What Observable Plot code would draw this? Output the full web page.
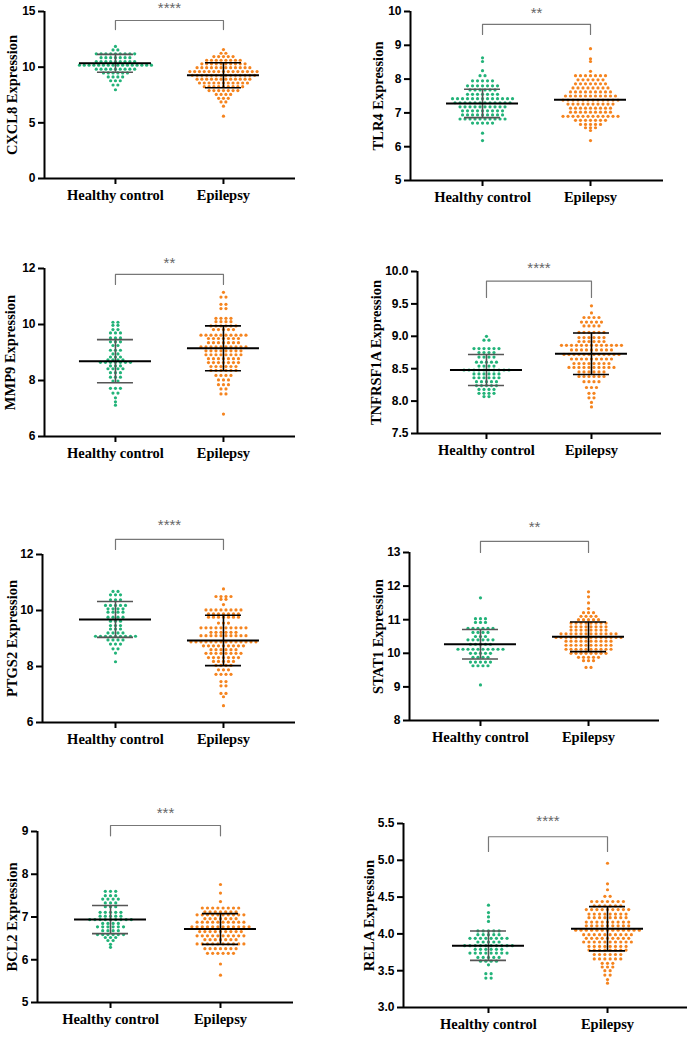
<!DOCTYPE html>
<html><head><meta charset="utf-8">
<script src="https://cdn.jsdelivr.net/npm/d3@7"></script>
<script src="https://cdn.jsdelivr.net/npm/@observablehq/plot@0.6"></script>
<style>
body{margin:0;background:#fff}
#wrap{position:relative;width:692px;height:1039px;background:#fff;overflow:hidden}
.panel{position:absolute}
.panel svg{overflow:visible}
</style></head><body><div id="wrap"></div>
<script>
// ---------- DATA (rows = [value, number of points]) ----------
const groups = ["Healthy control", "Epilepsy"];
const genes = ["CXCL8", "TLR4", "MMP9", "TNFRSF1A", "PTGS2", "STAT1", "BCL2", "RELA"];
const significance = ["****", "**", "**", "****", "****", "**", "***", "****"];

const cxcl8Healthy = [[11.86,1],[11.55,2],[11.2,9],[10.85,7],[10.5,9],[10.18,16],[9.82,9],[9.48,6],[9.12,4],[8.78,3],[8.4,2],[7.97,1]];
const cxcl8Epilepsy = [[11.58,1],[11.25,2],[10.95,5],[10.62,8],[10.3,10],[9.95,12],[9.6,15],[9.27,14],[8.92,12],[8.58,11],[8.25,9],[7.9,7],[7.55,4],[7.2,3],[6.88,2],[6.5,1],[5.6,1]];
const tlr4Healthy = [[8.63,1],[8.52,1],[8.25,1],[8.1,2],[7.95,5],[7.8,7],[7.68,6],[7.55,7],[7.42,13],[7.3,12],[7.18,10],[7.06,9],[6.94,9],[6.82,10],[6.7,5],[6.4,1],[6.18,1]];
const tlr4Epilepsy = [[8.9,1],[8.6,1],[8.52,1],[8.23,1],[8.1,7],[7.98,6],[7.86,7],[7.74,8],[7.62,9],[7.5,11],[7.38,12],[7.26,10],[7.14,9],[7.02,9],[6.9,12],[6.78,7],[6.66,5],[6.56,3],[6.48,1],[6.18,1]];
const mmp9Healthy = [[10.08,2],[9.97,2],[9.82,2],[9.7,3],[9.52,3],[9.38,3],[9.25,2],[9.08,3],[8.95,2],[8.84,3],[8.74,4],[8.65,7],[8.52,3],[8.42,4],[8.28,3],[8.12,3],[7.98,2],[7.72,3],[7.55,2],[7.38,1],[7.24,1],[7.12,1]];
const mmp9Epilepsy = [[11.15,1],[10.98,2],[10.72,2],[10.57,2],[10.22,4],[10.1,4],[9.95,6],[9.82,5],[9.62,10],[9.5,7],[9.35,7],[9.2,10],[9.06,8],[8.92,8],[8.78,7],[8.64,7],[8.5,6],[8.36,6],[8.18,4],[8.02,3],[7.85,3],[7.7,2],[7.52,2],[6.8,1]];
const tnfrsf1aHealthy = [[9.0,1],[8.94,2],[8.81,6],[8.75,4],[8.68,4],[8.6,5],[8.54,4],[8.48,10],[8.42,6],[8.36,6],[8.3,5],[8.24,5],[8.18,4],[8.12,4],[8.07,2]];
const tnfrsf1aEpilepsy = [[9.47,1],[9.36,1],[9.29,4],[9.22,5],[9.16,4],[9.06,6],[8.98,6],[8.92,6],[8.86,13],[8.79,9],[8.72,12],[8.65,9],[8.58,8],[8.52,10],[8.45,6],[8.38,6],[8.3,4],[8.21,3],[8.12,2],[8.05,2],[7.98,1],[7.91,1]];
const ptgs2Healthy = [[10.68,2],[10.56,3],[10.38,3],[10.18,5],[10.06,4],[9.94,4],[9.76,4],[9.62,3],[9.46,3],[9.34,3],[9.2,4],[9.08,9],[8.95,4],[8.8,3],[8.63,2],[8.48,1],[8.17,1]];
const ptgs2Epilepsy = [[10.77,1],[10.5,4],[10.4,2],[10.21,1],[10.02,8],[9.88,7],[9.76,7],[9.55,3],[9.38,10],[9.22,6],[9.1,10],[8.88,14],[8.74,9],[8.6,6],[8.47,8],[8.32,7],[8.18,5],[8.04,4],[7.88,3],[7.72,4],[7.46,2],[7.31,2],[7.04,2],[6.92,1],[6.6,1]];
const stat1Healthy = [[11.65,1],[11.03,3],[10.92,3],[10.74,6],[10.62,4],[10.5,3],[10.4,6],[10.27,5],[10.12,10],[10.0,5],[9.88,4],[9.74,5],[9.63,4],[9.06,1]];
const stat1Epilepsy = [[11.83,1],[11.68,1],[11.5,1],[11.33,1],[11.21,3],[11.1,4],[11.0,5],[10.9,8],[10.79,8],[10.69,8],[10.58,12],[10.47,14],[10.36,10],[10.24,10],[10.12,10],[10.0,8],[9.88,5],[9.78,3],[9.58,2]];
const bcl2Healthy = [[7.6,3],[7.5,3],[7.42,4],[7.33,3],[7.24,3],[7.11,5],[7.02,5],[6.94,9],[6.85,4],[6.77,6],[6.68,4],[6.59,6],[6.52,3],[6.45,2],[6.36,1],[6.29,1]];
const bcl2Epilepsy = [[7.76,1],[7.56,1],[7.36,1],[7.21,8],[7.12,7],[7.05,10],[6.96,7],[6.88,10],[6.77,12],[6.66,9],[6.56,10],[6.47,7],[6.37,10],[6.26,7],[6.15,6],[5.9,1],[5.64,1]];
const relaHealthy = [[4.39,1],[4.29,1],[4.23,1],[4.17,1],[4.04,5],[3.99,5],[3.94,8],[3.89,5],[3.84,10],[3.79,6],[3.74,8],[3.68,5],[3.63,4],[3.58,1],[3.46,2],[3.4,2]];
const relaEpilepsy = [[4.96,1],[4.68,1],[4.6,1],[4.51,2],[4.44,7],[4.38,6],[4.33,9],[4.27,8],[4.22,8],[4.16,9],[4.11,9],[4.05,13],[3.99,10],[3.94,9],[3.89,10],[3.83,8],[3.78,8],[3.72,6],[3.66,6],[3.6,3],[3.55,3],[3.5,2],[3.44,2],[3.38,1],[3.33,1]];

// mean and SD per group [healthy, epilepsy]; null SD = no error bar drawn
const means = [[10.35,9.27],[7.28,7.39],[8.69,9.15],[8.48,8.73],[9.68,8.93],[10.27,10.49],[6.94,6.72],[3.84,4.07]];
const sds   = [[0.8,1.12],[0.42,null],[0.77,0.8],[0.24,0.32],[0.64,0.9],[0.44,0.44],[0.33,0.36],[0.2,0.3]];

// y axes
const yDomains = [[0,15],[5,10],[6,12],[7.5,10],[6,12],[8,13],[5,9],[3,5.5]];
const yTicks = [[0,5,10,15],[5,6,7,8,9,10],[6,8,10,12],[7.5,8,8.5,9,9.5,10],[6,8,10,12],[8,9,10,11,12,13],[5,6,7,8,9],[3,3.5,4,4.5,5,5.5]];
const yDecimals = [0,0,0,1,0,0,0,1];
// significance bracket: [leg end, top, stars] in y units
const brackets = [[13.38,14.19,15.27],[9.32,9.62,9.94],[11.43,11.79,12.18],[9.6,9.85,10.05],[12.18,12.54,13.04],[13.0,13.33,13.74],[8.9,9.14,9.44],[5.12,5.32,5.53]];

const rows = [[cxcl8Healthy,cxcl8Epilepsy],[tlr4Healthy,tlr4Epilepsy],[mmp9Healthy,mmp9Epilepsy],[tnfrsf1aHealthy,tnfrsf1aEpilepsy],[ptgs2Healthy,ptgs2Epilepsy],[stat1Healthy,stat1Epilepsy],[bcl2Healthy,bcl2Epilepsy],[relaHealthy,relaEpilepsy]];

// ---------- LAYOUT ----------
const colors = ["#22b379", "#f5841f"];
const sdColors = ["#555", "#000"];
const geo = [
  {left:0,  top:0,   h:250, ml:44, mr:51, mt:11, mb:72, lo:.343, hi:2.667, sp:4.8, tx:-32},
  {left:346,top:0,   h:250, ml:64, mr:29, mt:11, mb:70, lo:.333, hi:2.676, sp:5,   tx:-32},
  {left:0,  top:250, h:250, ml:44, mr:51, mt:18, mb:64, lo:.343, hi:2.667, sp:5,   tx:-34},
  {left:346,top:250, h:250, ml:71, mr:31, mt:21, mb:67, lo:.343, hi:2.667, sp:5,   tx:-41},
  {left:0,  top:500, h:290, ml:42, mr:51, mt:54, mb:68, lo:.324, hi:2.667, sp:5,   tx:-30},
  {left:346,top:500, h:290, ml:63, mr:33, mt:52, mb:70, lo:.343, hi:2.657, sp:5,   tx:-31},
  {left:0,  top:790, h:249, ml:37, mr:53, mt:41, mb:37, lo:.336, hi:2.664, sp:5.2, tx:-25},
  {left:346,top:790, h:249, ml:57, mr:5,  mt:33, mb:32, lo:.286, hi:2.672, sp:5.3, tx:-34}
];
const SANS = "Liberation Sans, Arial, sans-serif";
const SERIF = "Liberation Serif, Times New Roman, serif";

const wrap = document.getElementById("wrap");
genes.forEach((gene, p) => {
  const g = geo[p];
  const W = 346;
  const frameW = W - g.ml - g.mr;
  const u = (g.hi - g.lo) / frameW; // x units per pixel
  const marks = [];
  // axes lines
  marks.push(Plot.ruleX([g.lo], {stroke: "#000", strokeWidth: 2}));
  marks.push(Plot.ruleY([yDomains[p][0]], {stroke: "#000", strokeWidth: 2}));
  marks.push(Plot.axisY({ticks: yTicks[p], tickFormat: d3.format("." + yDecimals[p] + "f"), tickSize: 6, tickPadding: 3, strokeWidth: 2, fontSize: 12, fontWeight: "bold", fontFamily: SANS, label: null}));
  marks.push(Plot.axisX({ticks: [1, 2], tickFormat: d => groups[d - 1], tickSize: 6, tickPadding: 5, strokeWidth: 2, fontSize: 14.5, fontWeight: "bold", fontFamily: SERIF, label: null}));
  marks.push(Plot.text([gene + " Expression"], {frameAnchor: "left", textAnchor: "middle", rotate: -90, dx: g.tx, fontSize: 14.5, fontWeight: "bold", fontFamily: SERIF, fill: "#000"}));
  // points
  rows[p].forEach((rws, gi) => {
    const pts = [];
    rws.forEach(([v, n]) => { for (let i = 0; i < n; i++) pts.push({x: gi + 1 + (i - (n - 1) / 2) * g.sp * u, v}); });
    marks.push(Plot.dot(pts, {x: "x", y: "v", r: 1.6, fill: colors[gi], stroke: "none"}));
  });
  // mean & SD
  [0, 1].forEach(gi => {
    const c = gi + 1, m = means[p][gi], s = sds[p][gi];
    if (s != null) {
      marks.push(Plot.ruleX([c], {y1: m - s, y2: m + s, stroke: sdColors[gi], strokeWidth: 1.6}));
      marks.push(Plot.ruleY([m - s, m + s], {x1: c - 18 * u, x2: c + 18 * u, stroke: sdColors[gi], strokeWidth: 1.6}));
    }
    marks.push(Plot.ruleY([m], {x1: c - 36 * u, x2: c + 36 * u, stroke: "#000", strokeWidth: 2}));
  });
  // bracket
  const [legY, topY, starY] = brackets[p];
  marks.push(Plot.line([[1, legY], [1, topY], [2, topY], [2, legY]], {stroke: "#777", strokeWidth: 1.2}));
  marks.push(Plot.text([significance[p]], {x: 1.5, y: starY, fontSize: 15, fontFamily: SANS, fill: "#666"}));

  const chart = Plot.plot({
    width: W, height: g.h,
    marginLeft: g.ml, marginRight: g.mr, marginTop: g.mt, marginBottom: g.mb,
    x: {domain: [g.lo, g.hi]},
    y: {domain: yDomains[p]},
    style: {background: "transparent", overflow: "visible"},
    marks
  });
  const div = document.createElement("div");
  div.className = "panel";
  div.style.left = g.left + "px";
  div.style.top = g.top + "px";
  div.appendChild(chart);
  wrap.appendChild(div);
});
</script></body></html>
